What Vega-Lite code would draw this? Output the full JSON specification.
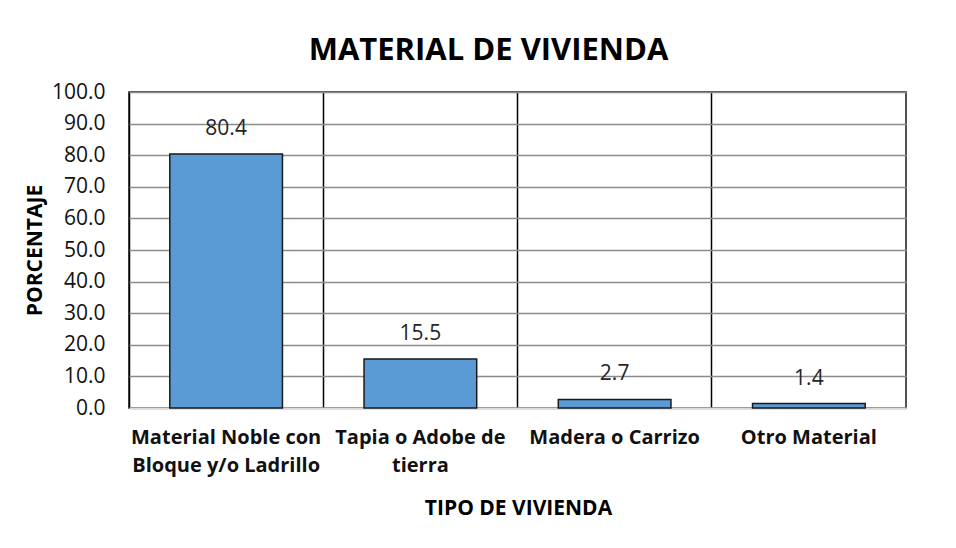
{
  "$schema": "https://vega.github.io/schema/vega-lite/v6.json",
  "width": 777,
  "height": 316,
  "autosize": {"type": "none"},
  "padding": {"left": 129, "top": 92, "right": 50, "bottom": 140},
  "background": "white",
  "title": {"text": "MATERIAL DE VIVIENDA", "font": "Open Sans", "fontSize": 31, "fontWeight": "bold", "color": "#000000", "anchor": "middle", "dx": -29, "offset": 14},
  "data": {"values": [
    {"tipo": "Material Noble con|Bloque y/o Ladrillo", "porcentaje": 80.4},
    {"tipo": "Tapia o Adobe de|tierra", "porcentaje": 15.5},
    {"tipo": "Madera o Carrizo", "porcentaje": 2.7},
    {"tipo": "Otro Material", "porcentaje": 1.4}
  ]},
  "encoding": {
    "x": {"field": "tipo", "type": "nominal", "sort": null,
      "scale": {"paddingInner": 0.42, "paddingOuter": 0.21},
      "axis": {"title": "TIPO DE VIVIENDA", "labelAngle": 0, "labelExpr": "split(datum.label, '|')",
        "bandPosition": -0.362, "grid": true, "gridColor": "#000000", "gridWidth": 1.5, "gridOpacity": 1,
        "domainColor": "#d9d9d9", "domainWidth": 2, "ticks": false, "labelPadding": 19,
        "labelFont": "Open Sans", "labelFontSize": 20, "labelFontWeight": "bold", "labelColor": "#111111", "labelLineHeight": 28, "labelLimit": 300,
        "titleFont": "Open Sans", "titleFontSize": 21, "titleFontWeight": "bold", "titleColor": "#000000", "titlePadding": 22, "titleX": 389}},
    "y": {"field": "porcentaje", "type": "quantitative",
      "scale": {"domain": [0, 100], "nice": false},
      "axis": {"title": "PORCENTAJE", "values": [0, 10, 20, 30, 40, 50, 60, 70, 80, 90, 100], "format": ".1f",
        "grid": true, "gridColor": "#8c8c8c", "gridWidth": 1.3, "gridOpacity": 1, "domain": false, "ticks": false, "labelPadding": 24,
        "labelFont": "Open Sans", "labelFontSize": 21, "labelColor": "#111111",
        "titleFont": "Open Sans", "titleFontSize": 21, "titleFontWeight": "bold", "titleColor": "#000000", "titlePadding": 6}}
  },
  "layer": [
    {"mark": {"type": "bar", "color": "#5B9BD5", "stroke": "#1a1a1a", "strokeWidth": 1.5}},
    {"mark": {"type": "text", "baseline": "alphabetic", "dy": -19, "font": "Open Sans", "fontSize": 21, "color": "#262626"},
      "encoding": {"text": {"field": "porcentaje", "type": "quantitative", "format": ".1f"}}}
  ],
  "config": {"view": {"stroke": "#1a1a1a", "strokeWidth": 1.5}}
}
